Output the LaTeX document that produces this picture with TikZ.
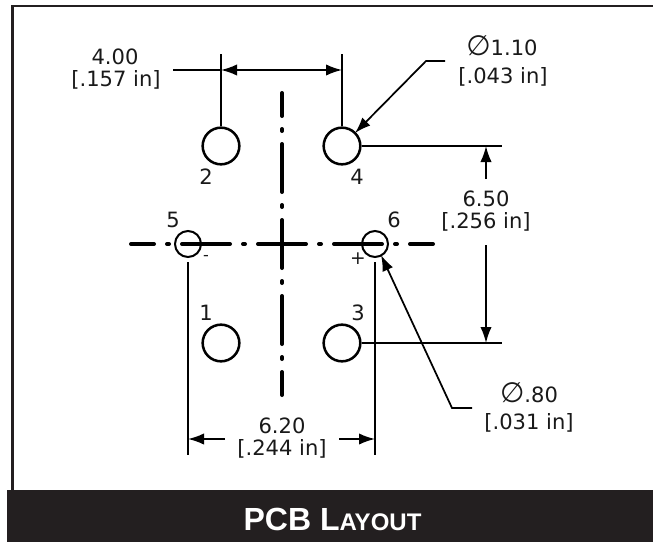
\documentclass[tikz,border=0pt]{standalone}
\usepackage{fontspec}
\setmainfont{DejaVu Sans}
\newfontfamily\titlefont{Liberation Sans}
\usetikzlibrary{arrows.meta}
\definecolor{inkblack}{HTML}{231F20}
\newcommand{\diam}{{\fontsize{21pt}{16pt}\selectfont ∅}}
\tikzset{
  x=0.75pt,y=-0.75pt,
  hole/.style={circle,draw=black,line width=1.9pt,inner sep=0pt,minimum size=27.5pt},
  smallhole/.style={circle,draw=black,line width=1.5pt,inner sep=0pt,minimum size=19.5pt},
  dim/.style={draw=black,line width=1.3pt},
  dimarrow/.style={dim,-{Latex[length=12pt,width=8.5pt]}},
  centerline/.style={draw=black,line width=3pt,line cap=round,dash pattern=on 36pt off 9.75pt on 1.5pt off 9.75pt,dash phase=18.75pt},
  label/.style={inner sep=0pt,font=\fontsize{15.8pt}{18pt}\selectfont,text=black!90},
  framerule/.style={draw=inkblack,line width=1.9pt},
}
\begin{document}
\begin{tikzpicture}
\useasboundingbox (0,0) rectangle (653,542);
% frame and title band
\draw[framerule] (12.5,490) -- (12.5,6) -- (653,6);
\fill[inkblack] (7,490) rectangle (653,542);
\node[inner sep=0pt,text=white,font=\titlefont\bfseries] (title) at (332.5,519)
  {\fontsize{24pt}{26pt}\selectfont PCB L\fontsize{18pt}{20pt}\selectfont AYOUT};
% holes
\node[hole] (h2) at (221,146) {};
\node[hole] (h4) at (342,146) {};
\node[hole] (h1) at (221,343) {};
\node[hole] (h3) at (342,343) {};
\node[smallhole] (h5) at (188,244) {};
\node[smallhole] (h6) at (375,244) {};
% centre lines
\coordinate (vt) at (282,93); \coordinate (vb) at (282,395);
\coordinate (hl) at (131,244); \coordinate (hr) at (433,244);
\draw[centerline] (vt) -- (vb);
\draw[centerline] (hl) -- (hr);
% 4.00 dimension
\coordinate (e2) at (221,54); \coordinate (e4) at (342,54);
\coordinate (a2) at (221,70); \coordinate (a4) at (342,70);
\coordinate (a0) at (173,70); \coordinate (am) at (282,70);
\draw[dim] (h2.north) -- (e2);
\draw[dim] (h4.north) -- (e4);
\draw[dim] (a0) -- (a2);
\draw[dimarrow] (am) -- (a2);
\draw[dimarrow] (am) -- (a4);
% 1.10 leader
\coordinate (l1a) at (445,61); \coordinate (l1b) at (426,61); \coordinate (l1c) at (355,133);
\draw[dimarrow] (l1a) -- (l1b) -- (l1c);
% 6.50 dimension
\coordinate (x4) at (502,146); \coordinate (x3) at (502,343);
\coordinate (b4) at (486,146); \coordinate (b3) at (486,343);
\coordinate (b4s) at (486,179); \coordinate (b3s) at (486,245);
\draw[dim] (h4.east) -- (x4);
\draw[dim] (h3.east) -- (x3);
\draw[dimarrow] (b4s) -- (b4);
\draw[dimarrow] (b3s) -- (b3);
% 6.20 dimension
\coordinate (y5) at (188,455); \coordinate (y6) at (375,455);
\coordinate (c5t) at (188,262); \coordinate (c6t) at (375,262);
\coordinate (c5) at (188,439); \coordinate (c6) at (375,439);
\coordinate (c5s) at (225,439); \coordinate (c6s) at (339,439);
\draw[dim] (c5t) -- (y5);
\draw[dim] (c6t) -- (y6);
\draw[dimarrow] (c5s) -- (c5);
\draw[dimarrow] (c6s) -- (c6);
% .80 leader
\coordinate (l2a) at (472,408); \coordinate (l2b) at (452,408); \coordinate (l2c) at (381,255);
\draw[dimarrow] (l2a) -- (l2b) -- (l2c);
% dimension texts
\node[label] (t400) at (115,57) {4.00};
\node[label] (t157) at (116,80) {[.157 in]};
\node[label] (t110) at (502,46) {\diam1.10};
\node[label] (t043) at (503,77) {[.043 in]};
\node[label] (t650) at (486,199) {6.50};
\node[label] (t256) at (486,222) {[.256 in]};
\node[label] (t080) at (529,393) {\diam.80};
\node[label] (t031) at (529,423) {[.031 in]};
\node[label] (t620) at (282,426) {6.20};
\node[label] (t244) at (282,449) {[.244 in]};
% pin labels
\node[label] (p2) at (206,177) {2};
\node[label] (p4) at (357,177) {4};
\node[label] (p5) at (173,220) {5};
\node[label] (p6) at (394,220) {6};
\node[label] (p1) at (206,313) {1};
\node[label] (p3) at (358,313) {3};
\node[label,font=\fontsize{12pt}{13pt}\selectfont] (minus) at (206,258) {-};
\node[label,font=\fontsize{14pt}{15pt}\selectfont] (plus) at (358,259) {+};
\end{tikzpicture}
\end{document}
